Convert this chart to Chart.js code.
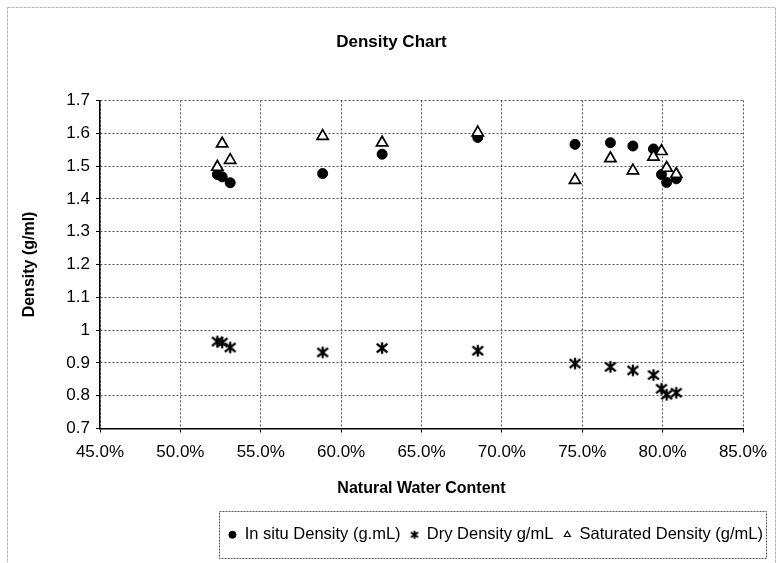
<!DOCTYPE html>
<html>
<head>
<meta charset="utf-8">
<script src="https://cdn.jsdelivr.net/npm/chart.js@4.4.1/dist/chart.umd.min.js"></script>
<style>
  html, body { margin: 0; padding: 0; background: #fff; }
</style>
</head>
<body>
<canvas id="chart" width="777" height="563"></canvas>
<script>
// Natural water content (fraction) for each sample
const waterContent = [0.523, 0.526, 0.531, 0.5885, 0.6255, 0.685, 0.7455, 0.7675, 0.7815, 0.7943, 0.7993, 0.8025, 0.8085];

// Densities (g/mL)
const inSituDensity    = [1.474, 1.467, 1.449, 1.477, 1.536, 1.587, 1.566, 1.571, 1.561, 1.552, 1.474, 1.450, 1.461];
const dryDensity       = [0.965, 0.962, 0.947, 0.932, 0.945, 0.937, 0.898, 0.888, 0.877, 0.863, 0.821, 0.803, 0.809];
const saturatedDensity = [1.497, 1.568, 1.518, 1.591, 1.571, 1.602, 1.457, 1.523, 1.486, 1.528, 1.545, 1.494, 1.475];

const seriesLabels = ['In situ Density (g.mL)', 'Dry Density g/mL', 'Saturated Density (g/mL)'];

// Axis ranges
const xRange = { min: 0.45, max: 0.85, step: 0.05 };
const yRange = { min: 0.7, max: 1.7, step: 0.1 };

const FONT = 'Liberation Sans, Arial, sans-serif';

// Excel-style asterisk marker (X with a vertical bar)
function asteriskMarker(size, lw) {
  const c = document.createElement('canvas');
  c.width = size; c.height = size;
  const g = c.getContext('2d');
  g.strokeStyle = '#000';
  g.lineWidth = lw;
  const m = lw / 2 + 0.5;
  g.beginPath();
  g.moveTo(m, m + 1); g.lineTo(size - m, size - m - 1);
  g.moveTo(size - m, m + 1); g.lineTo(m, size - m - 1);
  g.moveTo(size / 2, m - 0.5); g.lineTo(size / 2, size - m + 0.5);
  g.stroke();
  return c;
}
const bigStar = asteriskMarker(14, 2.3);
const smallStar = asteriskMarker(10, 1.8);

const toPoints = ys => ys.map((y, i) => ({ x: waterContent[i], y }));

// white page + faint outer frame + legend frame
const framePlugin = {
  id: 'frames',
  beforeDraw(chart) {
    const ctx = chart.ctx;
    ctx.save();
    ctx.fillStyle = '#fff';
    ctx.fillRect(0, 0, chart.width, chart.height);
    ctx.restore();
  },
  afterDraw(chart) {
    const ctx = chart.ctx;
    ctx.save();
    ctx.strokeStyle = '#b5b5b5';
    ctx.lineWidth = 1;
    ctx.setLineDash([3, 1]);
    ctx.strokeRect(7.5, 7.5, chart.width - 9, chart.height);
    // legend box
    const boxes = chart.legend.legendHitBoxes;
    if (boxes && boxes.length) {
      const first = boxes[0], last = boxes[boxes.length - 1];
      const l = Math.round(first.left) - 8.5;
      const r = Math.round(last.left + last.width) + 3.5;
      const t = Math.round(first.top + first.height / 2) - 23.5;
      ctx.strokeStyle = '#555';
      ctx.setLineDash([2, 1]);
      ctx.strokeRect(l, t, r - l, 47);
    }
    ctx.restore();
  }
};

new Chart(document.getElementById('chart'), {
  type: 'scatter',
  data: {
    datasets: [
      {
        label: seriesLabels[0],
        data: toPoints(inSituDensity),
        pointStyle: 'circle',
        pointRadius: 5,
        pointHoverRadius: 5,
        backgroundColor: '#000',
        borderColor: '#000',
        borderWidth: 1,
        order: 3,
      },
      {
        label: seriesLabels[1],
        data: toPoints(dryDensity),
        pointStyle: bigStar,
        pointRadius: 7,
        backgroundColor: '#000',
        borderColor: '#000',
        order: 2,
      },
      {
        label: seriesLabels[2],
        data: toPoints(saturatedDensity),
        pointStyle: 'triangle',
        pointRadius: 6.5,
        pointHoverRadius: 6.5,
        backgroundColor: '#fff',
        borderColor: '#000',
        borderWidth: 1.7,
        order: 1,
      },
    ],
  },
  options: {
    responsive: false,
    animation: false,
    devicePixelRatio: 1,
    layout: { padding: { left: 10, right: 4, top: 0, bottom: 10 } },
    plugins: {
      title: {
        display: true,
        text: 'Density Chart',
        color: '#000',
        font: { family: FONT, size: 17, weight: 'bold' },
        padding: { top: 32, bottom: 48 },
      },
      legend: {
        position: 'bottom',
        align: 'end',
        labels: {
          color: '#000',
          font: { family: FONT, size: 16.5 },
          usePointStyle: true,
          boxWidth: 8,
          boxHeight: 5,
          padding: 10,
          sort: (a, b) => a.datasetIndex - b.datasetIndex,
          generateLabels(chart) {
            const items = Chart.defaults.plugins.legend.labels.generateLabels(chart);
            items.forEach(it => {
              if (it.datasetIndex === 1) it.pointStyle = smallStar;
              if (it.datasetIndex === 2) it.lineWidth = 1.2;
            });
            return items;
          },
        },
      },
      tooltip: { enabled: false },
    },
    scales: {
      x: {
        type: 'linear',
        min: xRange.min,
        max: xRange.max,
        afterFit(scale) { scale.height = 88; scale.paddingRight = 34; },
        title: {
          display: true,
          text: 'Natural Water Content',
          color: '#000',
          font: { family: FONT, size: 16, weight: 'bold' },
          padding: { top: 10, bottom: 18 },
        },
        ticks: {
          stepSize: xRange.step,
          color: '#000',
          font: { family: FONT, size: 17 },
          padding: 10,
          maxRotation: 0,
          callback: v => (v * 100).toFixed(1) + '%',
        },
        grid: { color: '#555', lineWidth: 1, tickLength: 4, tickColor: '#000' },
        border: { color: '#000', width: 1.5, dash: [2, 2] },
      },
      y: {
        type: 'linear',
        min: yRange.min,
        max: yRange.max,
        afterFit(scale) { scale.width = 90; },
        title: {
          display: true,
          text: 'Density (g/ml)',
          color: '#000',
          font: { family: FONT, size: 16, weight: 'bold' },
          padding: { top: 10, bottom: 4 },
        },
        ticks: {
          stepSize: yRange.step,
          color: '#000',
          font: { family: FONT, size: 17 },
          padding: 6,
          callback: v => String(Number(v.toFixed(1))),
        },
        grid: { color: '#555', lineWidth: 1, tickLength: 4, tickColor: '#000' },
        border: { color: '#000', width: 1.5, dash: [2, 2] },
      },
    },
  },
  plugins: [framePlugin],
});
</script>
</body>
</html>
